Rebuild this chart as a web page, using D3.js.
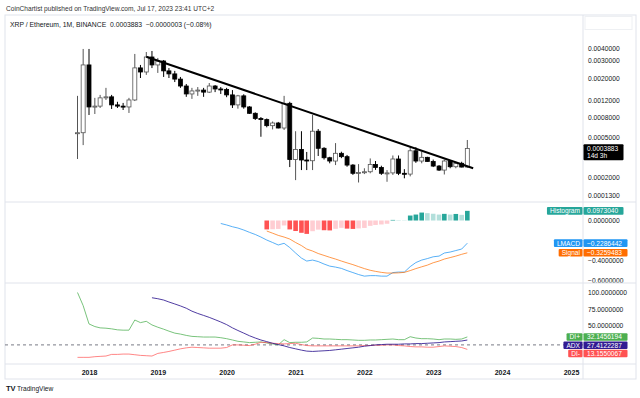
<!DOCTYPE html>
<meta charset="utf-8">
<script src="https://d3js.org/d3.v7.min.js"></script>
<style>
  body { margin: 0; background: #fff; }
  text { font-family: "Liberation Sans", Arial, sans-serif; }
</style>
<body>
<svg id="chart" width="640" height="398"></svg>
<script>
// monthly bars, Nov 2017 .. Jul 2023
const months = d3.timeMonth.range(new Date(2017, 10, 1), new Date(2023, 7, 1));

// [open, high, low, close]
const candles = [
  [0.00055, 0.00132, 0.000304, 0.00056],
  [0.00056, 0.00393, 0.00042, 0.00271],
  [0.00271, 0.00393, 0.000846, 0.00102],
  [0.00102, 0.00126, 0.000866, 0.00104],
  [0.00104, 0.00135, 0.000996, 0.00126],
  [0.00126, 0.00159, 0.0012, 0.00129],
  [0.00129, 0.00135, 0.000973, 0.00107],
  [0.00107, 0.00115, 0.000996, 0.00104],
  [0.00104, 0.00112, 0.00095, 0.00102],
  [0.00102, 0.00126, 0.000887, 0.0012],
  [0.0012, 0.0035, 0.00117, 0.00253],
  [0.00253, 0.00271, 0.002, 0.0023],
  [0.0023, 0.00366, 0.00215, 0.00326],
  [0.00326, 0.00375, 0.00252, 0.00271],
  [0.00271, 0.00319, 0.00225, 0.00297],
  [0.00297, 0.00304, 0.00205, 0.00236],
  [0.00236, 0.00252, 0.002, 0.0022],
  [0.0022, 0.00236, 0.00182, 0.00195],
  [0.00195, 0.00205, 0.00159, 0.00166],
  [0.00166, 0.00174, 0.00129, 0.00138],
  [0.00138, 0.00159, 0.00123, 0.00148],
  [0.00148, 0.00162, 0.00132, 0.00151],
  [0.00151, 0.00159, 0.00129, 0.00144],
  [0.00144, 0.00178, 0.00141, 0.00166],
  [0.00166, 0.0017, 0.00144, 0.00155],
  [0.00155, 0.00162, 0.00138, 0.00153],
  [0.00153, 0.00159, 0.00128, 0.00135],
  [0.00135, 0.00151, 0.000996, 0.00107],
  [0.00107, 0.00135, 0.00098, 0.00132],
  [0.00132, 0.00137, 0.00098, 0.00102],
  [0.00102, 0.00104, 0.000866, 0.00088],
  [0.00088, 0.0009, 0.000753, 0.00078],
  [0.00078, 0.000807, 0.00051, 0.00076],
  [0.00076, 0.00078, 0.000635, 0.00066],
  [0.00066, 0.000727, 0.000605, 0.000702],
  [0.000702, 0.00072, 0.00062, 0.000625],
  [0.000625, 0.00132, 0.000597, 0.00111],
  [0.00111, 0.00115, 0.000252, 0.0003],
  [0.0003, 0.00058, 0.000186, 0.00038],
  [0.00038, 0.00058, 0.000235, 0.000297],
  [0.000297, 0.000358, 0.000235, 0.000292],
  [0.000292, 0.000846, 0.000235, 0.00058],
  [0.00058, 0.00061, 0.000326, 0.00039],
  [0.00039, 0.0004, 0.0003, 0.000313],
  [0.000313, 0.00032, 0.000275, 0.00029],
  [0.00029, 0.00044, 0.000264, 0.000347],
  [0.000347, 0.00036, 0.00031, 0.000321],
  [0.000321, 0.000334, 0.000254, 0.000264],
  [0.000264, 0.00027, 0.00021, 0.000218],
  [0.000218, 0.00027, 0.000176, 0.000222],
  [0.000222, 0.000245, 0.000214, 0.000226],
  [0.000226, 0.000308, 0.000218, 0.000268],
  [0.000268, 0.00029, 0.000236, 0.00025],
  [0.00025, 0.00026, 0.00021, 0.000218],
  [0.000218, 0.000235, 0.000179, 0.00022],
  [0.00022, 0.00033, 0.00021, 0.000304],
  [0.000304, 0.00033, 0.000209, 0.000218],
  [0.000218, 0.00024, 0.000194, 0.000214],
  [0.000214, 0.000405, 0.000203, 0.000368],
  [0.000368, 0.0004, 0.000278, 0.00029],
  [0.00029, 0.000362, 0.000275, 0.000316],
  [0.000316, 0.00032, 0.000285, 0.000287],
  [0.000287, 0.0003, 0.000252, 0.000258],
  [0.000258, 0.000264, 0.00023, 0.000235],
  [0.000235, 0.0003, 0.000212, 0.00029],
  [0.00029, 0.000297, 0.000245, 0.000254],
  [0.000254, 0.000285, 0.000245, 0.000275],
  [0.000275, 0.000285, 0.00025, 0.000252],
  [0.000252, 0.000473, 0.000248, 0.0003883]
];

// hand drawn trend line
const trendLine = [[new Date(2018, 10, 1), 0.00328], [new Date(2023, 7, 1), 0.000245]];

// LMACD starts on bar 25, signal and histogram on bar 33
const macdStart = 25;
const macd = [-0.03, -0.045, -0.063, -0.076, -0.096, -0.119, -0.141, -0.167, -0.197, -0.222,
  -0.247, -0.23, -0.273, -0.328, -0.379, -0.409, -0.399, -0.414, -0.439, -0.46,
  -0.47, -0.483, -0.505, -0.525, -0.545, -0.561, -0.556, -0.556, -0.561, -0.561,
  -0.525, -0.52, -0.52, -0.465, -0.424, -0.399, -0.384, -0.366, -0.359, -0.328,
  -0.318, -0.303, -0.288, -0.2286442];
const signalStart = 33;
const signal = [-0.106, -0.128, -0.15, -0.167, -0.187, -0.222, -0.253, -0.288, -0.308, -0.333,
  -0.352, -0.371, -0.389, -0.409, -0.427, -0.445, -0.465, -0.485, -0.502, -0.513,
  -0.523, -0.53, -0.53, -0.528, -0.523, -0.505, -0.485, -0.467, -0.45, -0.426,
  -0.409, -0.389, -0.374, -0.359, -0.341, -0.3259483];
const histogram = [-0.09, -0.088, -0.085, -0.05, -0.09, -0.106, -0.124, -0.135, -0.108, -0.092,
  -0.098, -0.1, -0.084, -0.074, -0.082, -0.085, -0.08, -0.075, -0.054, -0.045,
  -0.04, -0.033, 0.006, 0.004, 0.003, 0.05, 0.06, 0.08, 0.074, 0.068,
  0.06, 0.067, 0.06, 0.066, 0.057, 0.097304];

// ADX and DI
const diPlus = [100, 80, 52, 48, 46, 45.5, 44.5, 43, 42.5, 42.5, 58, 54, 56, 50.5, 47, 44, 41, 38,
  36.5, 34.5, 33, 32.5, 32, 32, 32, 31, 29.5, 27.5, 25.5, 24.5, 23.5, 24, 24.5, 23, 21.5, 20,
  28, 23.5, 24, 24, 24.5, 30.5, 30, 29, 29, 28.5, 28, 28, 27.5, 27, 27, 27.5, 27.5, 28, 28.5,
  29, 28, 28, 32.5, 30.5, 29.5, 29.5, 29, 28, 29, 29, 28.5, 29, 32.1456194];
const diMinus = [1, 1, 1, 2, 2.5, 3, 5.5, 5.5, 6, 6, 5, 4, 3.5, 3, 7, 8.5, 10, 12, 14, 15.5,
  16.5, 16, 15.5, 15, 15, 15, 16, 20, 20, 19.5, 19, 21, 24, 23.5, 22.5, 22, 21.5, 22, 22.5,
  20.5, 19, 18.5, 18.5, 18.5, 18.5, 18.5, 18.5, 18.5, 18.5, 18.5, 19, 19, 19.5, 19.5, 20,
  20, 19, 18.5, 17.5, 17, 17, 16.5, 16.5, 17.5, 18.5, 18, 17.5, 16, 13.1550067];
const adxStart = 13;
const adx = [92, 90.5, 88.5, 85.5, 82.5, 79.5, 76, 71.5, 68, 65, 62, 58.5, 55, 51, 46, 42, 38,
  34, 30.5, 27.5, 25, 22.5, 20.5, 18.5, 16, 14, 12, 10.5, 10, 10.5, 11, 11.5, 12.5, 13.5,
  14.5, 15.5, 16.5, 18, 19, 20, 20.5, 21, 21, 21, 21.5, 21.5, 22, 22, 22.5, 23, 23.5, 24.5,
  25, 25.5, 26, 27.4122287];
const adxLevel = 20;

const yearTicks = [2018, 2019, 2020, 2021, 2022, 2023, 2024, 2025];
const priceTicks = [0.008, 0.004, 0.003, 0.002, 0.0012, 0.0008, 0.0005, 0.0002, 0.00013];
const macdTicks = [0, -0.4, -0.6];
const adxTicks = [100, 75, 50];

const svg = d3.select("#chart");
const left = 5, axisX = 583, right = 636;
const pane = { main: [15, 202], macd: [202, 283], adx: [283, 364] };

const x = d3.scaleTime()
  .domain([new Date(2018, 0, 1), new Date(2025, 0, 1)])
  .range([89, 571]);
const yPrice = d3.scaleLog().domain([0.0002, 0.002]).range([177, 78]);
const yMacd = d3.scaleLinear().domain([-0.6, 0]).range([280, 220.5]);
const yAdx = d3.scaleLinear().domain([0, 100]).range([358, 292.5]);

const fmt = d => (d < 0 ? "\u2212" : "") + Math.abs(d).toFixed(7);

// header
svg.append("text").attr("x", 6).attr("y", 11).attr("font-size", 6.6).attr("fill", "#333")
  .text("CoinChartist published on TradingView.com, Jul 17, 2023 23:41 UTC+2");

// frame
svg.append("rect").attr("x", left).attr("y", 15).attr("width", right - left).attr("height", 364)
  .attr("fill", "none").attr("stroke", "#e0e3eb");
[202, 283, 364].forEach(yy => svg.append("line").attr("x1", left).attr("x2", right)
  .attr("y1", yy).attr("y2", yy).attr("stroke", "#e0e3eb"));
svg.append("line").attr("x1", axisX).attr("x2", axisX).attr("y1", 15).attr("y2", 379)
  .attr("stroke", "#e0e3eb");

svg.append("text").attr("x", 10).attr("y", 27).attr("font-size", 6.8).attr("fill", "#131722")
  .attr("xml:space", "preserve")
  .text("XRP / Ethereum, 1M, BINANCE  0.0003883  \u22120.0000003 (\u22120.08%)");

// clip paths per pane
Object.entries(pane).forEach(([k, [t, b]]) => {
  svg.append("clipPath").attr("id", "clip-" + k).append("rect")
    .attr("x", left).attr("y", t).attr("width", axisX - left).attr("height", b - t);
});

// candles
const gMain = svg.append("g").attr("clip-path", "url(#clip-main)");
const bw = 4;
const bars = gMain.selectAll("g.candle").data(candles).join("g").attr("class", "candle");
bars.append("line")
  .attr("x1", (d, i) => x(months[i])).attr("x2", (d, i) => x(months[i]))
  .attr("y1", d => yPrice(d[1])).attr("y2", d => yPrice(d[2]))
  .attr("stroke", d => d[3] >= d[0] ? "#555" : "#000").attr("stroke-width", 1);
bars.append("rect")
  .attr("x", (d, i) => x(months[i]) - bw / 2)
  .attr("y", d => yPrice(Math.max(d[0], d[3])))
  .attr("width", bw)
  .attr("height", d => Math.max(1, Math.abs(yPrice(d[0]) - yPrice(d[3]))))
  .attr("fill", d => d[3] >= d[0] ? "#fff" : "#000")
  .attr("stroke", d => d[3] >= d[0] ? "#555" : "#000")
  .attr("stroke-width", 0.8);

gMain.append("path").datum(trendLine)
  .attr("d", d3.line().x(d => x(d[0])).y(d => yPrice(d[1])))
  .attr("stroke", "#000").attr("stroke-width", 2).attr("fill", "none");

// MACD pane
const gMacd = svg.append("g").attr("clip-path", "url(#clip-macd)");
gMacd.selectAll("rect.hist").data(histogram).join("rect").attr("class", "hist")
  .attr("x", (d, i) => x(months[signalStart + i]) - 2.3)
  .attr("width", 4.6)
  .attr("y", d => Math.min(yMacd(0), yMacd(d)))
  .attr("height", d => Math.abs(yMacd(d) - yMacd(0)))
  .attr("fill", (d, i) => {
    const prev = i > 0 ? histogram[i - 1] : 0;
    if (d >= 0) return d > prev ? "#26a69a" : "#b2dfdb";
    return d < prev ? "#ff5252" : "#ffcdd2";
  });
gMacd.append("path").datum(macd)
  .attr("d", d3.line().x((d, i) => x(months[macdStart + i])).y(d => yMacd(d)))
  .attr("stroke", "#2196f3").attr("stroke-opacity", 0.75).attr("fill", "none").attr("stroke-width", 1);
gMacd.append("path").datum(signal)
  .attr("d", d3.line().x((d, i) => x(months[signalStart + i])).y(d => yMacd(d)))
  .attr("stroke", "#ff6d00").attr("stroke-opacity", 0.7).attr("fill", "none").attr("stroke-width", 1);

// ADX pane
const gAdx = svg.append("g").attr("clip-path", "url(#clip-adx)");
gAdx.append("line").attr("x1", left).attr("x2", axisX)
  .attr("y1", yAdx(adxLevel)).attr("y2", yAdx(adxLevel))
  .attr("stroke", "#787b86").attr("stroke-dasharray", "3,3");
const adxLine = (start) => d3.line().x((d, i) => x(months[start + i])).y(d => yAdx(d));
gAdx.append("path").datum(diPlus).attr("d", adxLine(0))
  .attr("stroke", "#4caf50").attr("stroke-opacity", 0.75).attr("fill", "none");
gAdx.append("path").datum(diMinus).attr("d", adxLine(0))
  .attr("stroke", "#ff5252").attr("stroke-opacity", 0.7).attr("fill", "none");
gAdx.append("path").datum(adx).attr("d", adxLine(adxStart))
  .attr("stroke", "#311b92").attr("stroke-opacity", 0.85).attr("fill", "none");

// right axes, one per pane, clipped to the pane
[["main", yPrice, priceTicks], ["macd", yMacd, macdTicks], ["adx", yAdx, adxTicks]].forEach(([k, sc, tk]) => {
  const [t, b] = pane[k];
  svg.append("clipPath").attr("id", "axc-" + k).append("rect")
    .attr("x", axisX).attr("y", t + 0.5).attr("width", 60).attr("height", b - t - 1);
  const wrap = svg.append("g").attr("clip-path", "url(#axc-" + k + ")");
  const g = wrap.append("g").attr("transform", `translate(${axisX},0)`)
    .call(d3.axisRight(sc).tickValues(tk).tickSize(0).tickPadding(5).tickFormat(fmt));
  g.select(".domain").remove();
  g.selectAll("text").attr("font-size", 6.7).attr("fill", "#131722")
    .attr("font-family", '"Liberation Sans", Arial, sans-serif');
});

// little box in the top corner of the price scale
svg.append("rect").attr("x", 585).attr("y", 16.5).attr("width", 47).attr("height", 13)
  .attr("fill", "#fff").attr("stroke", "#eef0f3");

// time axis
const gx = svg.append("g").attr("transform", "translate(0,366)")
  .call(d3.axisBottom(x).tickValues(yearTicks.map(y => new Date(y, 0, 1)))
    .tickSize(0).tickPadding(4).tickFormat(d3.timeFormat("%Y")));
gx.select(".domain").remove();
gx.selectAll("text").attr("font-size", 7).attr("font-weight", "bold").attr("fill", "#131722")
  .attr("font-family", '"Liberation Sans", Arial, sans-serif');

// value tags
function tag(yc, name, value, bg, valueW) {
  const g = svg.append("g");
  const nt = g.append("text").attr("font-size", 6.6).attr("fill", "#fff")
    .attr("text-anchor", "end").attr("x", axisX - 3).attr("y", yc + 2.4).text(name);
  const nw = nt.node().getComputedTextLength();
  g.insert("rect", "text").attr("x", axisX - nw - 6).attr("y", yc - 3.8)
    .attr("width", nw + 5.5).attr("height", 7.6).attr("rx", 1).attr("fill", bg);
  g.append("rect").attr("x", axisX + 0.5).attr("y", yc - 3.8).attr("width", valueW)
    .attr("height", 7.6).attr("rx", 1).attr("fill", bg);
  g.append("text").attr("font-size", 6.6).attr("fill", "#fff").attr("x", axisX + 4)
    .attr("y", yc + 2.4).text(fmt(value));
}
function stack(items, scale) {
  const ys = items.map(it => scale(it[1]));
  for (let i = 1; i < ys.length; i++) ys[i] = Math.max(ys[i], ys[i - 1] + 8.3);
  return ys;
}
tag(yMacd(histogram[histogram.length - 1]), "Histogram", histogram[histogram.length - 1], "#26a69a", 40);
const macdTags = [["LMACD", macd[macd.length - 1], "#2196f3"], ["Signal", signal[signal.length - 1], "#ff6d00"]];
stack(macdTags, yMacd).forEach((yy, i) => tag(yy, macdTags[i][0], macdTags[i][1], macdTags[i][2], 44));
const adxTags = [["DI+", diPlus[diPlus.length - 1], "#4caf50"], ["ADX", adx[adx.length - 1], "#311b92"],
  ["DI-", diMinus[diMinus.length - 1], "#ff5252"]];
stack(adxTags, yAdx).forEach((yy, i) => tag(yy, adxTags[i][0], adxTags[i][1], adxTags[i][2], 44));

// last price tag
const lastClose = candles[candles.length - 1][3];
const py = yPrice(lastClose);
svg.append("rect").attr("x", axisX + 0.5).attr("y", py - 4.3).attr("width", 40).attr("height", 16)
  .attr("rx", 1).attr("fill", "#000");
svg.append("text").attr("x", axisX + 4).attr("y", py + 2.3).attr("font-size", 6.6).attr("fill", "#fff")
  .text(lastClose.toFixed(7));
svg.append("text").attr("x", axisX + 4).attr("y", py + 9.6).attr("font-size", 6.6).attr("fill", "#fff")
  .text("14d 3h");

// footer logo
svg.append("text").attr("x", 6).attr("y", 391).attr("font-size", 7.5).attr("font-weight", "bold")
  .attr("fill", "#131722").text("TV");
svg.append("text").attr("x", 17).attr("y", 391).attr("font-size", 6.6).attr("fill", "#131722")
  .text("TradingView");
</script>
</body>
